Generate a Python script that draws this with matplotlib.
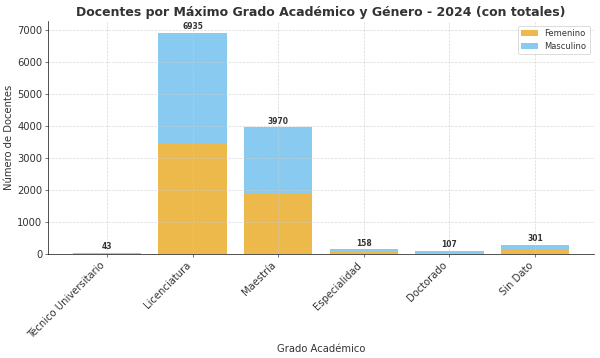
import matplotlib.pyplot as plt
import numpy as np

grados = ['Técnico Universitario', 'Licenciatura', 'Maestría', 'Especialidad', 'Doctorado', 'Sin Dato']
femenino = [22, 3455, 1915, 88, 45, 130]
totales = [43, 6935, 3970, 158, 107, 301]
masculino = [t - f for t, f in zip(totales, femenino)]

plt.rcParams['text.color'] = '#333333'
plt.rcParams['axes.labelcolor'] = '#333333'
plt.rcParams['xtick.color'] = '#333333'
plt.rcParams['ytick.color'] = '#333333'

fig, ax = plt.subplots(figsize=(10, 5.967), dpi=60)

x = np.arange(len(grados))
ax.bar(x, femenino, color='#EDB94A', label='Femenino')
ax.bar(x, masculino, bottom=femenino, color='#89CBF0', label='Masculino')

for xi, t in zip(x, totales):
    ax.text(xi, t + 50, str(t), ha='center', va='bottom', fontsize=9, fontweight='bold', color='#333333')

ax.set_xticks(x)
ax.set_xticklabels(grados, rotation=45, ha='right', fontsize=12)
ax.tick_params(axis='y', labelsize=12)
ax.set_xlabel('Grado Académico', fontsize=12)
ax.set_ylabel('Número de Docentes', fontsize=12)
ax.set_title('Docentes por Máximo Grado Académico y Género - 2024 (con totales)',
             fontsize=15, fontweight='bold', color='#333333')
ax.grid(True, linestyle='--', linewidth=0.8, color='#cccccc', alpha=0.8)
ax.spines['top'].set_visible(False)
ax.spines['right'].set_visible(False)
ax.legend(fontsize=10, loc='upper right')

plt.subplots_adjust(left=0.08, right=0.99, top=0.94, bottom=0.29)
plt.savefig('out.png')
